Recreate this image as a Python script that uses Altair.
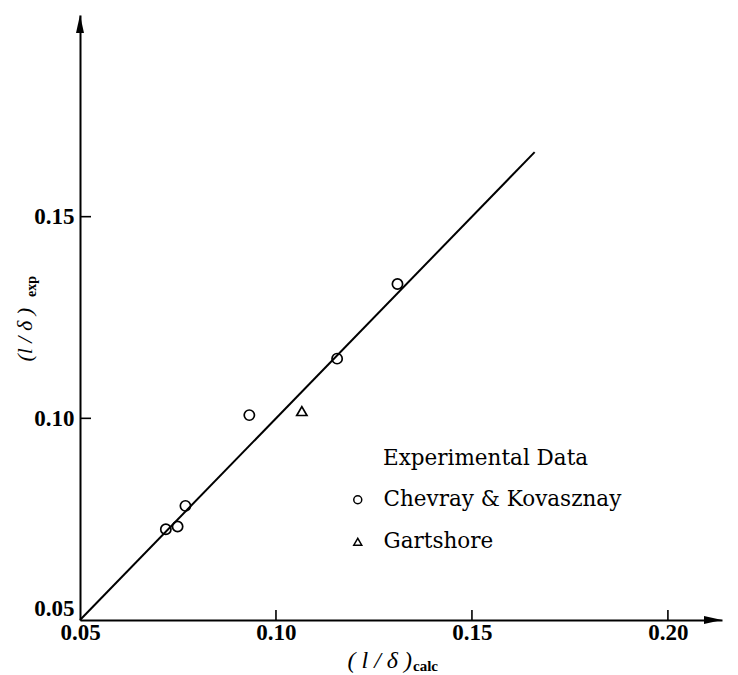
import altair as alt
import pandas as pd

# ---- data ----
ck_x = [0.0719, 0.0749, 0.0769, 0.0932, 0.1156, 0.1310]
ck_y = [0.0725, 0.0732, 0.0783, 0.1008, 0.1148, 0.1333]
g_x = [0.1066]
g_y = [0.1018]
series_names = ["Chevray & Kovasznay", "Gartshore"]
line_x = [0.05, 0.166]
line_y = [0.05, 0.166]
x_ticks = [0.05, 0.10, 0.15, 0.20]
y_ticks = [0.05, 0.10, 0.15]
x_domain = [0.05, 0.2138]
y_domain = [0.05, 0.20]

W, H = 642, 605
SERIF = "Liberation Serif"

pts = pd.DataFrame({
    "x": ck_x + g_x,
    "y": ck_y + g_y,
    "series": [series_names[0]] * len(ck_x) + [series_names[1]] * len(g_x),
})
fit = pd.DataFrame({"x": line_x, "y": line_y})

xs = alt.Scale(domain=x_domain, nice=False, zero=False)
ys = alt.Scale(domain=y_domain, nice=False, zero=False)

x_axis = alt.Axis(values=x_ticks, format=".2f", title=None, ticks=False, grid=False,
                  domainColor="black", domainWidth=2, labelFont=SERIF, labelFontSize=23,
                  labelFontWeight="bold",
                  labelColor="black", labelPadding=1, labelFlush=False, labelOverlap=False)
y_axis = alt.Axis(values=y_ticks, format=".2f", title=None, ticks=False, grid=False,
                  domainColor="black", domainWidth=2, labelFont=SERIF, labelFontSize=23,
                  labelFontWeight="bold",
                  labelColor="black", labelPadding=6, labelFlush=False, labelOverlap=False,
                  labelBaseline={"condition": {"test": "datum.value < 0.06", "value": "bottom"},
                                 "value": "middle"})

leg = alt.Legend(title=None, orient="none", legendX=267, legendY=474,
                 padding=0, symbolSize=64, symbolStrokeWidth=1.5,
                 symbolFillColor="white", symbolStrokeColor="black", symbolOpacity=1,
                 labelFont="DejaVu Serif", labelFontSize=21.5,
                 labelColor="black", labelOffset=15, labelLimit=400, rowPadding=19)

points = alt.Chart(pts).mark_point(fill="white", filled=False, strokeWidth=1.7,
                                   opacity=1, size=105).encode(
    x=alt.X("x:Q", scale=xs, axis=x_axis),
    y=alt.Y("y:Q", scale=ys, axis=y_axis),
    color=alt.Color("series:N",
                    scale=alt.Scale(domain=series_names, range=["black", "black"]),
                    legend=leg),
    shape=alt.Shape("series:N",
                    scale=alt.Scale(domain=series_names, range=["circle", "triangle-up"]),
                    legend=leg),
)

line = alt.Chart(fit).mark_line(color="black", strokeWidth=2).encode(
    x=alt.X("x:Q", scale=xs, axis=x_axis),
    y=alt.Y("y:Q", scale=ys, axis=y_axis),
)

xt = pd.DataFrame({"x": x_ticks[1:]})
yt = pd.DataFrame({"y": y_ticks[1:]})
x_tick_marks = alt.Chart(xt).mark_rule(color="black", strokeWidth=1.6).encode(
    x=alt.X("x:Q", scale=xs, axis=x_axis), y=alt.value(H), y2=alt.value(H - 10))
y_tick_marks = alt.Chart(yt).mark_rule(color="black", strokeWidth=1.6).encode(
    y=alt.Y("y:Q", scale=ys, axis=y_axis), x=alt.value(0), x2=alt.value(11))

arrow_up = alt.Chart(pd.DataFrame({"x": [x_domain[0]], "y": [y_domain[1]]})).mark_point(
    shape="M0,0L0.4,1.8L-0.4,1.8Z", filled=True, color="black", opacity=1, size=400
).encode(x=alt.X("x:Q", scale=xs, axis=x_axis), y=alt.Y("y:Q", scale=ys, axis=y_axis))
arrow_right = alt.Chart(pd.DataFrame({"x": [x_domain[1]], "y": [y_domain[0]]})).mark_point(
    shape="M0,0L-1.8,-0.4L-1.8,0.4Z", filled=True, color="black", opacity=1, size=400
).encode(x=alt.X("x:Q", scale=xs, axis=x_axis), y=alt.Y("y:Q", scale=ys, axis=y_axis))

one = pd.DataFrame({"a": [0]})
def label(text, x, y, size, style="normal", weight="normal", align="left",
          baseline="alphabetic", angle=0, font=SERIF):
    return alt.Chart(one).mark_text(text=text, font=font, fontSize=size, fontStyle=style,
                                    fontWeight=weight, align=align, baseline=baseline,
                                    angle=angle, color="black").encode(
        x=alt.value(x), y=alt.value(y))

x_title = label("( l / δ )", 332, 653, 24, style="italic", align="right")
x_sub = label("calc", 333, 656, 15, weight="bold")
y_title = label("(l / δ )", -55, 293, 22, style="italic", align="right",
                baseline="middle", angle=270)
y_sub = label("exp", -48, 282, 14, weight="bold", align="left", baseline="middle", angle=270)
legend_title = label("Experimental Data", 303, 444, 21.5, baseline="middle", font="DejaVu Serif")

chart = alt.layer(
    points, line, x_tick_marks, y_tick_marks, arrow_up, arrow_right,
    x_title, x_sub, y_title, y_sub, legend_title,
).properties(
    width=W, height=H,
    background="white",
    autosize=alt.AutoSizeParams(type="none"),
    padding={"left": 80, "top": 15, "right": 738 - 80 - W, "bottom": 675 - 15 - H},
).configure_view(stroke=None)

chart.save("out.html", embed_options={"renderer": "svg", "actions": False})
